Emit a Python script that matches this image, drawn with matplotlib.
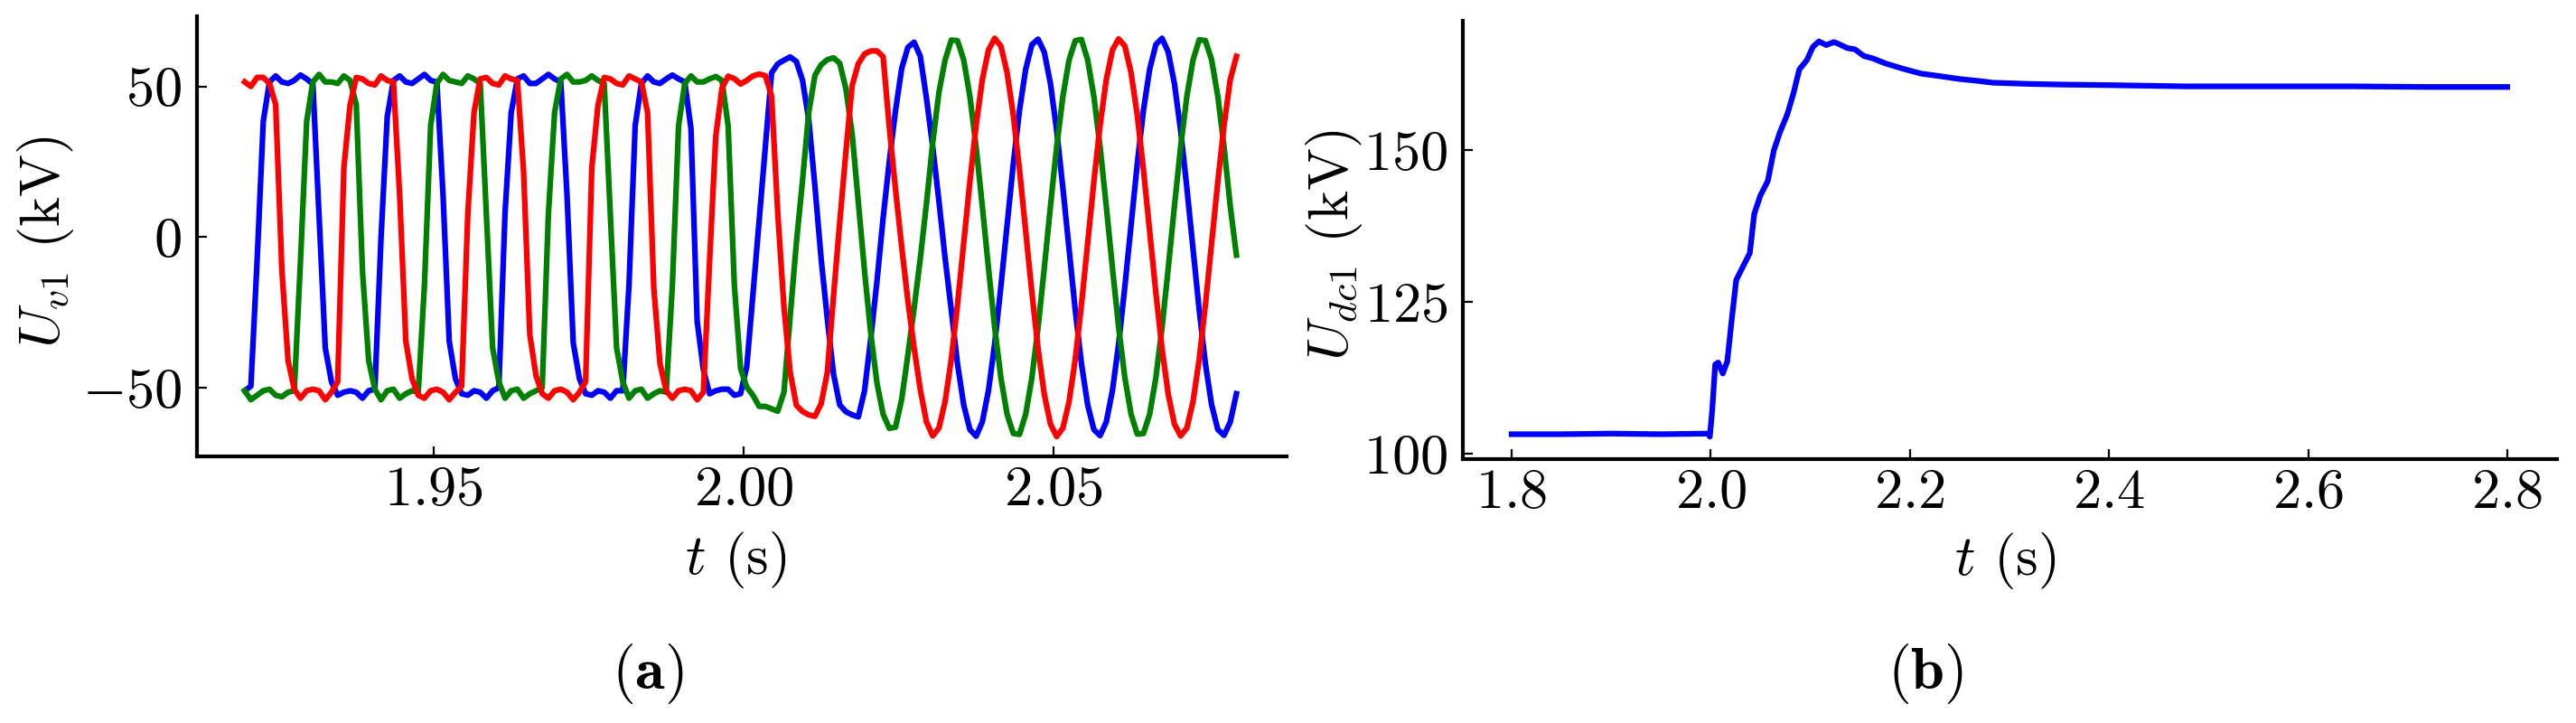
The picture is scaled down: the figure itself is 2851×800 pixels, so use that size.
import numpy as np
import matplotlib
matplotlib.use("Agg")
import matplotlib.pyplot as plt

# ---------------- data ----------------
# panel (a): three-phase converter voltage, sampled every 1 ms
T_START = 1.9195
DT = 0.001
u_a = [  # blue phase (kV)
    -51.0, -49.5, -8.0, 38.5, 51.5, 53.5, 51.5, 51.0, 52.0, 53.8,
    52.5, 50.8, 7.0, -36.8, -48.0, -52.5, -51.5, -51.0, -51.5, -53.5,
    -51.0, -50.5, 0.0, 40.0, 52.0, 53.5, 51.5, 51.0, 52.5, 54.0,
    52.0, 51.5, 14.0, -34.6, -47.0, -52.0, -52.5, -51.0, -51.5, -53.5,
    -51.0, -50.0, 8.0, 41.4, 52.5, 53.5, 51.0, 51.0, 52.5, 54.0,
    52.5, 51.5, 14.0, -35.0, -47.0, -52.0, -52.5, -51.0, -51.5, -53.5,
    -51.0, -51.0, -16.0, 37.0, 51.0, 53.5, 51.5, 51.0, 52.5, 53.8,
    52.5, 51.5, 36.0, -28.0, -44.0, -52.0, -51.0, -50.5, -50.5, -52.5,
    -52.0, -43.0, -19.0, 5.5, 30.0, 54.5, 57.5, 58.7, 59.8, 58.3,
    52.0, 39.0, 16.8, -7.2, -27.2, -45.5, -55.7, -58.0, -59.0, -59.7,
    -51.0, -33.8, -14.8, 6.3, 25.2, 42.0, 56.0, 63.0, 64.7, 60.0,
    46.0, 30.0, 12.0, -7.0, -24.3, -42.1, -55.7, -63.9, -66.1, -61.4,
    -50.9, -35.4, -16.4, 4.1, 24.3, 42.1, 55.7, 63.9, 65.7, 61.4,
    50.9, 35.4, 16.4, -4.1, -24.3, -42.1, -55.7, -63.9, -65.9, -61.4,
    -50.9, -35.4, -16.4, 4.1, 24.3, 42.1, 55.7, 63.9, 66.0, 61.4,
    50.9, 35.4, 16.4, -4.1, -24.3, -42.1, -55.7, -63.9, -65.8, -61.4,
    -52.0]
u_b = [  # green phase (kV)
    -51.0, -54.0, -52.5, -51.0, -50.5, -52.5, -53.0, -51.5, -51.0, -8.0,
    38.5, 51.5, 54.0, 51.5, 51.5, 51.0, 53.5, 52.0, 44.0, -11.2,
    -41.0, -50.5, -54.0, -51.0, -50.5, -53.5, -52.0, -51.0, -51.5, -16.0,
    37.0, 51.0, 54.0, 52.0, 51.5, 51.0, 53.5, 52.5, 51.0, 7.2,
    -36.8, -48.0, -53.5, -51.0, -50.5, -53.5, -52.0, -51.0, -50.0, 7.8,
    41.4, 52.5, 54.0, 51.5, 51.5, 52.0, 53.5, 52.0, 51.0, 7.0,
    -36.8, -48.0, -53.5, -51.0, -50.5, -53.5, -52.0, -51.0, -51.5, -16.0,
    37.0, 51.0, 53.5, 51.5, 51.5, 52.5, 53.3, 52.0, 36.8, -16.0,
    -43.6, -49.8, -52.5, -56.2, -56.2, -57.0, -57.8, -51.5, -26.4, -2.0,
    18.8, 41.4, 53.7, 57.2, 58.9, 59.5, 57.7, 49.2, 34.3, 11.5,
    -11.2, -31.8, -48.4, -58.8, -63.5, -63.1, -53.8, -39.0, -23.6, -7.1,
    11.3, 31.3, 48.0, 58.8, 65.4, 65.2, 58.8, 46.7, 30.0, 10.3,
    -10.3, -30.0, -46.7, -58.8, -65.2, -65.5, -58.8, -46.7, -30.0, -10.3,
    10.3, 30.0, 46.7, 58.8, 65.2, 65.6, 58.8, 46.7, 30.0, 10.3,
    -10.3, -30.0, -46.7, -58.8, -65.4, -65.2, -58.8, -46.7, -30.0, -10.3,
    10.3, 30.0, 46.7, 58.8, 65.5, 65.2, 58.8, 46.7, 30.0, 10.3,
    -6.0]
u_c = [  # red phase (kV)
    51.5, 50.0, 53.0, 53.0, 51.0, 44.0, -11.0, -41.0, -50.5, -53.5,
    -51.0, -50.5, -51.0, -54.0, -51.5, -48.0, 23.0, 43.8, 53.0, 52.5,
    51.0, 50.5, 53.5, 52.0, 51.5, 14.0, -34.6, -47.0, -52.5, -53.5,
    -51.0, -50.5, -51.5, -54.0, -51.5, -49.5, 7.8, 41.4, 52.5, 53.0,
    51.0, 50.5, 53.5, 52.5, 52.0, 21.6, -32.4, -46.0, -52.0, -53.5,
    -51.0, -50.5, -51.5, -54.0, -51.5, -48.0, 23.0, 43.8, 53.0, 52.5,
    51.0, 50.5, 53.5, 52.5, 51.5, 41.3, -16.8, -42.0, -51.0, -53.5,
    -51.0, -50.5, -51.0, -54.0, -51.5, -8.1, 33.5, 49.4, 53.4, 52.6,
    50.8, 52.0, 53.5, 54.1, 53.6, 46.8, 8.0, -23.2, -44.8, -55.8,
    -57.9, -59.0, -59.5, -55.3, -44.9, -19.5, 4.9, 28.4, 50.3, 57.6,
    60.8, 61.8, 61.8, 59.9, 36.4, 15.8, -3.3, -21.3, -36.8, -50.7,
    -61.4, -66.0, -63.4, -54.6, -40.5, -22.4, -2.1, 18.4, 37.1, 52.2,
    62.1, 66.0, 63.4, 54.6, 40.5, 22.4, 2.1, -18.4, -37.1, -52.2,
    -62.1, -66.2, -63.4, -54.6, -40.5, -22.4, -2.1, 18.4, 37.1, 52.2,
    62.1, 65.8, 63.4, 54.6, 40.5, 22.4, 2.1, -18.4, -37.1, -52.2,
    -62.1, -66.0, -63.4, -54.6, -40.5, -22.4, -2.1, 18.4, 37.1, 52.2,
    60.0]
t_a = T_START + DT * np.arange(len(u_a))

# panel (b): DC voltage
t_dc = [1.800, 1.850, 1.900, 1.950, 1.997, 1.9991, 2.0015, 2.0045, 2.0075,
        2.0121, 2.0166, 2.0211, 2.0256, 2.0317, 2.0392, 2.0437, 2.0498,
        2.0573, 2.0633, 2.0694, 2.0769, 2.0830, 2.0890, 2.0965, 2.1026,
        2.1086, 2.1161, 2.1237, 2.1282, 2.1373, 2.1448, 2.1538, 2.1629,
        2.1750, 2.1931, 2.2112, 2.2293, 2.2504, 2.2685, 2.2832, 2.3200,
        2.3500, 2.4000, 2.4765, 2.5500, 2.6450, 2.7200, 2.8000]
u_dc = [103.2, 103.2, 103.3, 103.2, 103.3, 102.8, 107.2, 114.7, 115.0,
        113.2, 115.2, 122.1, 128.6, 130.6, 133.0, 139.5, 142.5,
        144.9, 149.9, 152.9, 155.9, 159.3, 163.3, 164.8, 167.0,
        167.9, 167.3, 167.8, 167.5, 166.8, 166.6, 165.5, 165.1,
        164.3, 163.4, 162.6, 162.2, 161.7, 161.4, 161.1, 160.9,
        160.8, 160.7, 160.5, 160.5, 160.5, 160.4, 160.4]

xticks_a = [1.95, 2.00, 2.05]
yticks_a = [-50, 0, 50]
xticks_b = [1.8, 2.0, 2.2, 2.4, 2.6, 2.8]
yticks_b = [100, 125, 150]

# ---------------- style ----------------
plt.rcParams['font.family'] = 'serif'
plt.rcParams['font.serif'] = ['cmr10', 'DejaVu Serif']
plt.rcParams['mathtext.fontset'] = 'cm'
plt.rcParams['axes.formatter.use_mathtext'] = True
plt.rcParams['axes.unicode_minus'] = True

TICK_FS = 45
LABEL_FS = 45
PANEL_FS = 48
LW = 4.5

fig = plt.figure(figsize=(28.51, 8.0), dpi=100)
ax1 = fig.add_axes([0.07646, 0.36875, 0.42301, 0.60875])
ax2 = fig.add_axes([0.56787, 0.36500, 0.42476, 0.60625])

for ax in (ax1, ax2):
    ax.spines['top'].set_visible(False)
    ax.spines['right'].set_visible(False)
    for s in ('left', 'bottom'):
        ax.spines[s].set_linewidth(3.0)
        ax.spines[s].set_color('black')
    ax.tick_params(axis='both', direction='in', length=8, width=1.6,
                   labelsize=TICK_FS, colors='black')
    ax.tick_params(axis='x', pad=8)
    ax.tick_params(axis='y', pad=12)

# panel (a)
ax1.plot(t_a, u_a, color='#0000ff', lw=LW)
ax1.plot(t_a, u_b, color='#008000', lw=LW)
ax1.plot(t_a, u_c, color='#ff0000', lw=LW)
ax1.set_xlim(1.9118, 2.0876)
ax1.set_ylim(-72.8, 73.3)
ax1.set_xticks(xticks_a)
ax1.set_yticks(yticks_a)
ax1.set_xlabel(r'$t$ (s)', fontsize=LABEL_FS, va='center')
ax1.set_ylabel(r'$U_{v1}$ (kV)', fontsize=LABEL_FS, va='center')
ax1.xaxis.set_label_coords(0.494, -0.236)
ax1.yaxis.set_label_coords(-0.139, 0.487)

# panel (b)
ax2.plot(t_dc, u_dc, color='#0000ff', lw=LW)
ax2.set_xlim(1.751, 2.85)
ax2.set_ylim(99.1, 171.3)
ax2.set_xticks(xticks_b)
ax2.set_yticks(yticks_b)
ax2.set_xlabel(r'$t$ (s)', fontsize=LABEL_FS, va='center')
ax2.set_ylabel(r'$U_{dc1}$ (kV)', fontsize=LABEL_FS, va='center')
ax2.xaxis.set_label_coords(0.4955, -0.231)
ax2.yaxis.set_label_coords(-0.118, 0.487)

fig.text(0.2515, 0.068, r'($\mathbf{a}$)', fontsize=PANEL_FS, ha='center', va='center')
fig.text(0.7475, 0.068, r'($\mathbf{b}$)', fontsize=PANEL_FS, ha='center', va='center')

fig.savefig('out.png', dpi=100)
